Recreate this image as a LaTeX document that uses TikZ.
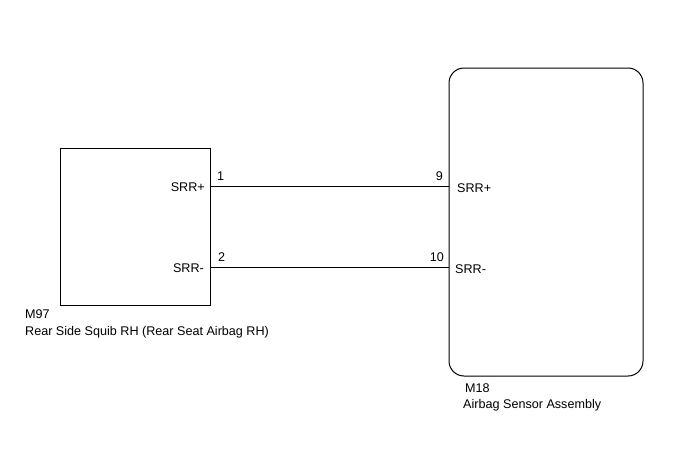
\documentclass[tikz,border=0pt]{standalone}
\usepackage{fontspec}
\setmainfont{Liberation Sans}
\usetikzlibrary{positioning,calc}

\tikzset{
  unit/.style = {draw, line width = 1pt, inner sep = 0pt},
  pin/.style = {font = \fontsize{12.6}{14}\selectfont, inner sep = 0pt},
  caption/.style = {font = \fontsize{12.6}{14}\selectfont, inner sep = 0pt, anchor = west, align = left}
}

\begin{document}
\begin{tikzpicture}[x = 1pt, y = -1pt]
\useasboundingbox (0,0) rectangle (688,463);
\node[unit, minimum width = 150pt, minimum height = 157pt] (m97) at (135,226.5) {};
\node[unit, rounded corners = 15pt, minimum width = 194pt, minimum height = 308pt] (m18) at (546,222) {};
\coordinate (p1) at (210,186);
\coordinate (p2) at (210,267);
\coordinate (p9) at (449,186);
\coordinate (p10) at (449,267);
\draw[line width = 1pt] (p1) -- (p9);
\draw[line width = 1pt] (p2) -- (p10);
% pin numbers
\node[pin, anchor = south west] (n1) at (217,181) {1};
\node[pin, anchor = south west] (n2) at (218,262) {2};
\node[pin, anchor = south east] (n9) at (443,181) {9};
\node[pin, anchor = south east] (n10) at (444,262) {10};
% pin names
\node[pin, anchor = east] (a1) at (205,187) {SRR+};
\node[pin, anchor = east] (a2) at (204,268) {SRR-};
\node[pin, anchor = west] (b9) at (457,188) {SRR+};
\node[pin, anchor = west] (b10) at (455,269) {SRR-};
% captions
\node[caption] (c97) at (25,314) {M97};
\node[caption] (d97) at (25,332) {Rear Side Squib RH (Rear Seat Airbag RH)};
\node[caption] (c18) at (465,388) {M18};
\node[caption] (d18) at (463,405) {Airbag Sensor Assembly};
\end{tikzpicture}
\end{document}
